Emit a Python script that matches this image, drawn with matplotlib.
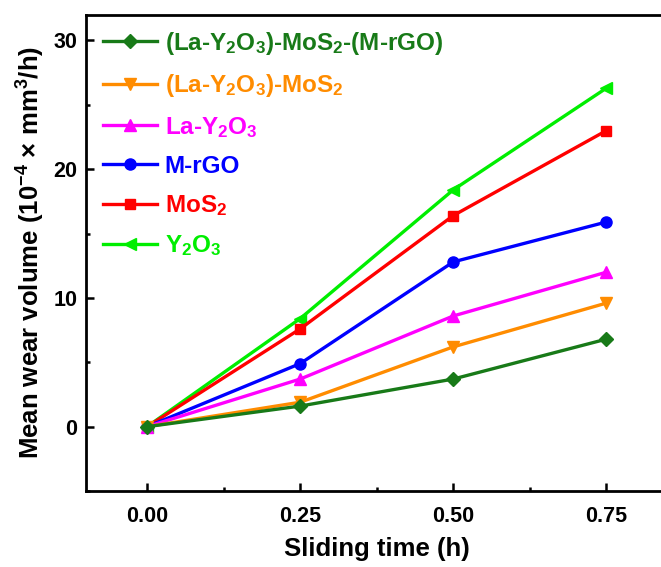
import matplotlib
matplotlib.use("Agg")
import matplotlib.pyplot as plt
from matplotlib.ticker import MultipleLocator

plt.rcParams["font.family"] = ["Liberation Sans", "DejaVu Sans"]
plt.rcParams["font.weight"] = "bold"
plt.rcParams["mathtext.fontset"] = "custom"
plt.rcParams["mathtext.rm"] = "Liberation Sans:bold"
plt.rcParams["mathtext.bf"] = "Liberation Sans:bold"
plt.rcParams["mathtext.default"] = "rm"

# sliding time (h)
time_h = [0.0, 0.25, 0.50, 0.75]

# mean wear volume (10^-4 mm^3/h)
la_y2o3_mos2_mrgo = [0.0, 1.6, 3.7, 6.8]
la_y2o3_mos2 = [0.0, 1.9, 6.2, 9.6]
la_y2o3 = [0.0, 3.7, 8.6, 12.0]
m_rgo = [0.0, 4.9, 12.8, 15.9]
mos2 = [0.0, 7.6, 16.4, 23.0]
y2o3 = [0.0, 8.4, 18.4, 26.3]

series = [
    (la_y2o3_mos2_mrgo, r"(La-Y$_2$O$_3$)-MoS$_2$-(M-rGO)", "#187a18", "D", 7),
    (la_y2o3_mos2, r"(La-Y$_2$O$_3$)-MoS$_2$", "#ff8c00", "v", 9),
    (la_y2o3, r"La-Y$_2$O$_3$", "#ff00ff", "^", 9),
    (m_rgo, "M-rGO", "#0000ff", "o", 8),
    (mos2, r"MoS$_2$", "#ff0000", "s", 7),
    (y2o3, r"Y$_2$O$_3$", "#00ee00", "<", 9),
]

fig = plt.figure(figsize=(6.61, 5.67), dpi=100)
ax = fig.add_axes([0.130, 0.134, 0.880, 0.840])

# draw the top curve last so it sits on top like the original
for values, label, color, marker, ms in reversed(series):
    ax.plot(time_h, values, color=color, marker=marker, markersize=ms,
            linewidth=2.4, label=label)

ax.set_xlim(-0.1, 0.85)
ax.set_ylim(-5, 32)
ax.xaxis.set_major_locator(MultipleLocator(0.25))
ax.xaxis.set_minor_locator(MultipleLocator(0.125))
ax.yaxis.set_major_locator(MultipleLocator(10))
ax.yaxis.set_minor_locator(MultipleLocator(5))
ax.set_xticks([0.0, 0.25, 0.50, 0.75])
ax.set_xticklabels(["0.00", "0.25", "0.50", "0.75"])

ax.tick_params(which="both", direction="in", width=1.8, labelsize=15.5)
ax.tick_params(which="major", length=6)
ax.tick_params(axis="x", which="major", pad=11)
ax.tick_params(axis="y", which="major", pad=6)
ax.tick_params(which="minor", length=3)
for sp in ax.spines.values():
    sp.set_linewidth(2)

ax.set_xlabel("Sliding time (h)", fontsize=18.5, fontweight="bold", labelpad=7)
ax.set_ylabel(r"Mean wear volume (10$^{-4}$ $\times$ mm$^3$/h)", fontsize=18.5,
              fontweight="bold", labelpad=5)

handles, labels = ax.get_legend_handles_labels()
leg = ax.legend(handles[::-1], labels[::-1], loc="upper left",
                bbox_to_anchor=(0.029, 0.968), frameon=False, fontsize=17.5,
                handlelength=2.25, handletextpad=0.3, labelspacing=0.63,
                borderaxespad=0, borderpad=0)
for text, (_, _, color, _, _) in zip(leg.get_texts(), series):
    text.set_color(color)
    text.set_fontweight("bold")

fig.savefig("out.png", dpi=100)
